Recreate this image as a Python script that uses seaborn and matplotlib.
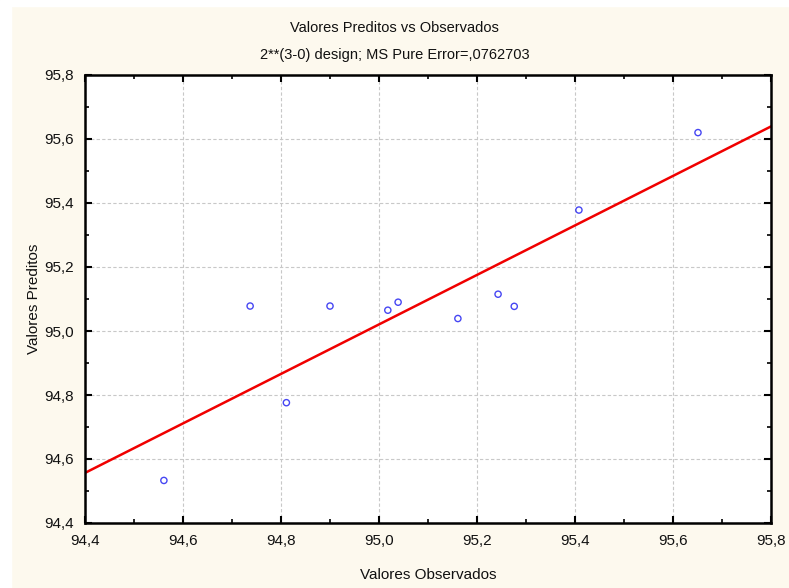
import numpy as np
import pandas as pd
import matplotlib
matplotlib.use("Agg")
import matplotlib.pyplot as plt
from matplotlib.ticker import MultipleLocator, FuncFormatter
import seaborn as sns

observed = [94.561, 94.737, 94.811, 94.900, 95.018, 95.039, 95.161, 95.243, 95.276, 95.408, 95.651]
predicted = [94.533, 95.078, 94.776, 95.078, 95.065, 95.090, 95.039, 95.115, 95.077, 95.378, 95.620]

title = "Valores Preditos vs Observados"
subtitle = "2**(3-0) design; MS Pure Error=,0762703"
xlabel = "Valores Observados"
ylabel = "Valores Preditos"

df = pd.DataFrame({"obs": observed, "pred": predicted})

sns.set_style("white")
plt.rcParams["font.family"] = ["Liberation Sans", "DejaVu Sans"]

cream = "#FDF9EE"
fig = plt.figure(figsize=(7.89, 5.88), dpi=100, facecolor=cream)
# white border strips (top and left)
fig.patches.append(plt.Rectangle((0, 0), 11 / 789, 1, transform=fig.transFigure, color="white", zorder=-10))
fig.patches.append(plt.Rectangle((0, 1 - 6 / 588), 1, 6 / 588, transform=fig.transFigure, color="white", zorder=-10))

ax = fig.add_axes([85 / 789, 1 - 523 / 588, 686 / 789, 448 / 588])
ax.set_facecolor("white")
ax.set_xlim(94.4, 95.8)
ax.set_ylim(94.4, 95.8)

sns.regplot(data=df, x="obs", y="pred", ax=ax, ci=None, truncate=False,
            scatter_kws=dict(s=20, facecolors="none", edgecolors="#1818F0", linewidths=1.0, zorder=3),
            line_kws=dict(color="#F00000", lw=1.8, zorder=2))

ax.set_xlim(94.4, 95.8)
ax.set_ylim(94.4, 95.8)
ax.xaxis.set_major_locator(MultipleLocator(0.2))
ax.yaxis.set_major_locator(MultipleLocator(0.2))
ax.xaxis.set_minor_locator(MultipleLocator(0.1))
ax.yaxis.set_minor_locator(MultipleLocator(0.1))
fmt = FuncFormatter(lambda v, p: f"{v:.1f}".replace(".", ","))
ax.xaxis.set_major_formatter(fmt)
ax.yaxis.set_major_formatter(fmt)

ax.grid(True, which="major", color="#C8C8C8", linestyle=(0, (3, 2)), linewidth=0.8)
ax.set_axisbelow(True)
ax.tick_params(which="both", direction="in", top=True, right=True, bottom=True, left=True,
               color="black", labelsize=11, labelcolor="#111111")
ax.tick_params(which="major", length=5, width=1.5, pad=8)
ax.tick_params(which="minor", length=3, width=1.2)
for sp in ax.spines.values():
    sp.set_visible(True)
    sp.set_color("black")
    sp.set_linewidth(1.8)

ax.set_xlabel(xlabel, fontsize=11, labelpad=14, color="#111111")
ax.set_ylabel(ylabel, fontsize=11, labelpad=2, color="#111111")

fig.text(0.5, 1 - 28 / 588, title, ha="center", va="center", fontsize=10.5,
         family=["Liberation Sans Narrow", "Liberation Sans"], color="#111111")
fig.text(0.5, 1 - 55 / 588, subtitle, ha="center", va="center", fontsize=10.5,
         family=["Liberation Sans Narrow", "Liberation Sans"], color="#111111")

fig.savefig("out.png", dpi=100, facecolor=cream)
